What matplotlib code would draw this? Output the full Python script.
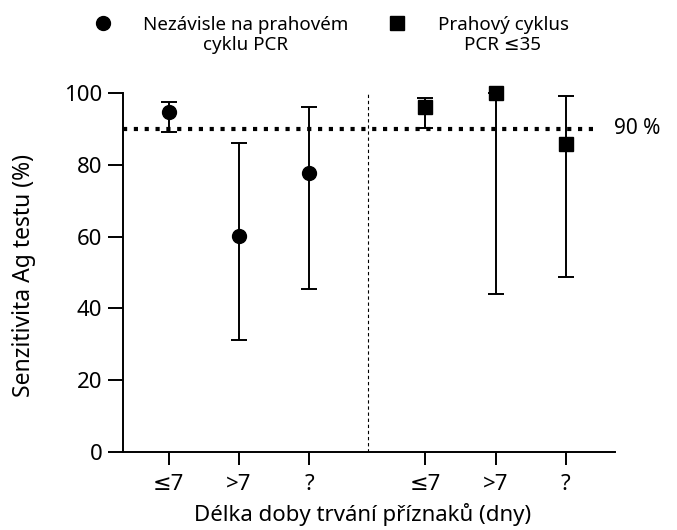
import numpy as np
import matplotlib.pyplot as plt
from matplotlib.lines import Line2D

# data
categories = ["≤7", ">7", "?"]
indep_value = [94.8, 60.2, 77.8]
indep_low = [89.2, 31.2, 45.3]
indep_high = [97.6, 86.2, 96.0]
thresh_value = [96.0, 100.0, 85.7]
thresh_low = [90.2, 43.9, 48.7]
thresh_high = [98.5, 100.0, 99.2]
reference_level = 90

x_indep = np.array([0.65, 1.65, 2.65])
x_thresh = np.array([4.3, 5.3, 6.3])

plt.rcParams["font.family"] = ["Noto Sans", "DejaVu Sans"]

W, H = 677, 530
fig = plt.figure(figsize=(W / 100, H / 100), dpi=100)
ax = fig.add_axes([123 / W, 78 / H, 492 / W, 359 / H])


def err(values, low, high):
    v = np.array(values)
    return np.vstack([v - np.array(low), np.array(high) - v])


ax.errorbar(x_indep, indep_value, yerr=err(indep_value, indep_low, indep_high),
            fmt="o", color="black", markersize=10, capsize=5.5, elinewidth=1.4,
            capthick=1.4, clip_on=False, zorder=3)
ax.errorbar(x_thresh, thresh_value, yerr=err(thresh_value, thresh_low, thresh_high),
            fmt="s", color="black", markersize=10.5, capsize=5.5, elinewidth=1.4,
            capthick=1.4, clip_on=False, zorder=3)

ax.plot([0, 6.77], [reference_level, reference_level], color="black",
        linestyle=(0, (1, 1.6)), linewidth=3, clip_on=False, zorder=2)
ax.text(6.98, reference_level, f"{reference_level} %", va="center", ha="left",
        fontsize=15)
ax.axvline(3.48, color="black", linestyle=(0, (3, 2.5)), linewidth=0.8)

ax.set_xlim(0, 7)
ax.set_ylim(0, 100)
ax.set_yticks(np.arange(0, 101, 20))
ax.set_xticks(np.concatenate([x_indep, x_thresh]))
ax.set_xticklabels(categories + categories)
ax.tick_params(axis="both", width=1.4, labelsize=16)
ax.tick_params(axis="y", length=11, pad=4)
ax.tick_params(axis="x", length=9, pad=7)
for side in ["top", "right"]:
    ax.spines[side].set_visible(False)
for side in ["left", "bottom"]:
    ax.spines[side].set_linewidth(1.4)

ax.set_ylabel("Senzitivita Ag testu (%)", fontsize=16.5)
ax.set_xlabel("Délka doby trvání příznaků (dny)", fontsize=16)
ax.yaxis.set_label_coords(-0.177, 0.493)
ax.xaxis.set_label_coords(0.486, -0.143)

# legend drawn by hand so the labels can sit centred beside the markers
legend_items = [
    ("o", 10, 103, 246, "Nezávisle na prahovém\ncyklu PCR"),
    ("s", 10.5, 397, 503, "Prahový cyklus\nPCR ≤35"),
]
for marker, size, mx, tx, label in legend_items:
    fig.add_artist(Line2D([mx / W], [1 - 23 / H], transform=fig.transFigure,
                          marker=marker, markersize=size, color="black",
                          linestyle="none"))
    fig.text(tx / W, 1 - 35 / H, label, ha="center", va="center",
             multialignment="center", fontsize=13.5, linespacing=1.2)

fig.savefig("out.png", dpi=100)
